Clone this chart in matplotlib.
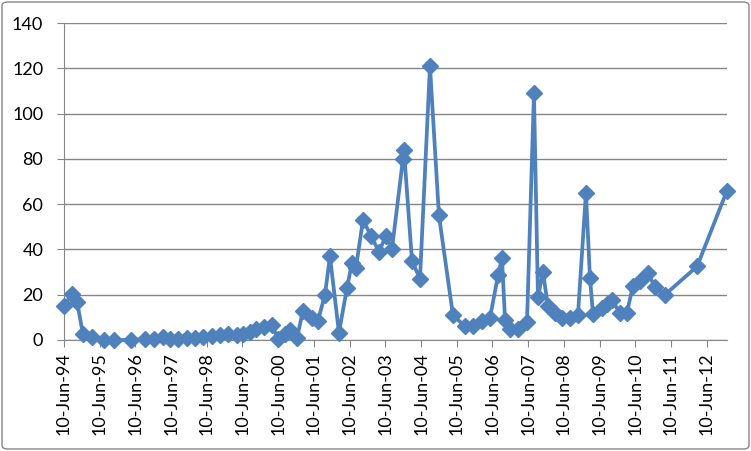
import matplotlib
matplotlib.use("Agg")
import matplotlib.pyplot as plt
import matplotlib.dates as mdates
from matplotlib.patches import FancyBboxPatch
import numpy as np
import datetime as dt

# data
dates = [
    "1994-06-10", "1994-08-31", "1994-10-21", "1994-12-21", "1995-03-23", "1995-07-24",
    "1995-11-03", "1996-04-25", "1996-09-16", "1996-12-17", "1997-03-19", "1997-05-29",
    "1997-08-19", "1997-11-19", "1998-02-09", "1998-05-02", "1998-08-02", "1998-10-23",
    "1999-01-13", "1999-04-15", "1999-06-15", "1999-08-26", "1999-10-26", "2000-01-16",
    "2000-04-07", "2000-06-07", "2000-08-18", "2000-10-08", "2000-12-19", "2001-02-18",
    "2001-05-21", "2001-07-21", "2001-10-01", "2001-11-21", "2002-02-21", "2002-05-14",
    "2002-07-04", "2002-08-14", "2002-10-25", "2003-01-15", "2003-04-06", "2003-06-17",
    "2003-08-17", "2003-12-08", "2003-12-18", "2004-03-09", "2004-05-30", "2004-09-09",
    "2004-12-10", "2005-05-02", "2005-09-02", "2005-11-23", "2006-02-23", "2006-05-16",
    "2006-08-06", "2006-09-16", "2006-10-17", "2006-12-07", "2007-02-26", "2007-05-30",
    "2007-08-09", "2007-09-19", "2007-11-09", "2007-12-30", "2008-03-11", "2008-05-22",
    "2008-08-11", "2008-11-01", "2009-01-22", "2009-03-04", "2009-04-04", "2009-07-05",
    "2009-08-25", "2009-10-15", "2010-01-05", "2010-03-17", "2010-05-18", "2010-07-28",
    "2010-10-18", "2010-12-29", "2011-04-10", "2012-03-04", "2013-01-04",
]
values = [
    15, 20.5, 17, 2.5, 1.3, 0.2,
    0, 0, 0.5, 0.6, 1.2, 0.4,
    0.4, 0.7, 0.8, 1.2, 1.8, 2.2,
    2.5, 2.2, 2.6, 3.5, 4.8, 5.7,
    6.8, 0.3, 2.6, 4.2, 1, 13,
    9.5, 8.5, 20, 37, 3.2, 23,
    34, 32, 53, 46, 39, 46,
    40, 80, 84, 35, 27, 121,
    55, 11, 6, 6, 8.5, 9.7,
    28.5, 36, 9, 5, 5, 8,
    109, 19, 30, 15, 12, 9.5,
    9.5, 11, 65, 27.5, 11.5, 14,
    16, 17.5, 12, 12, 24, 26,
    29.5, 23.5, 20, 32.5, 66,
]
tick_years = list(range(1994, 2013))

x = [dt.datetime.strptime(d, "%Y-%m-%d") for d in dates]
ticks = [dt.datetime(y, 6, 10) for y in tick_years]

plt.rcParams['font.family'] = ['Lato', 'DejaVu Sans']
blue = "#4F81BD"
grey = "#868686"

fig = plt.figure(figsize=(7.51, 4.51), dpi=100)
ax = fig.add_axes([64 / 751, 1 - 340 / 451, (727 - 64) / 751, (340 - 23) / 451])

ax.plot(x, values, color=blue, lw=2.7, marker='D', markersize=8.5,
        markerfacecolor=blue, markeredgecolor=blue, solid_joinstyle='miter',
        clip_on=False, zorder=3)

ax.set_ylim(0, 140)
ax.set_yticks(np.arange(0, 141, 20))
ax.set_xlim(x[0], x[-1])
ax.set_xticks(ticks)
ax.xaxis.set_major_formatter(mdates.DateFormatter("%d-%b-%y"))
ax.tick_params(axis='x', rotation=90, length=5, color=grey, labelsize=13, pad=4)
ax.tick_params(axis='y', length=5, color=grey, labelsize=13, pad=10)

ax.grid(axis='y', color=grey, lw=1)
ax.set_axisbelow(True)
for s in ['top', 'right']:
    ax.spines[s].set_visible(False)
for s in ['left', 'bottom']:
    ax.spines[s].set_color(grey)
ax.patch.set_alpha(0)

border = FancyBboxPatch((2 / 751, 2 / 451), 747 / 751, 447 / 451,
                        boxstyle="round,pad=0,rounding_size=0.008",
                        transform=fig.transFigure, fill=False, ec=grey, lw=1)
fig.patches.append(border)

fig.savefig("out.png", dpi=100)
